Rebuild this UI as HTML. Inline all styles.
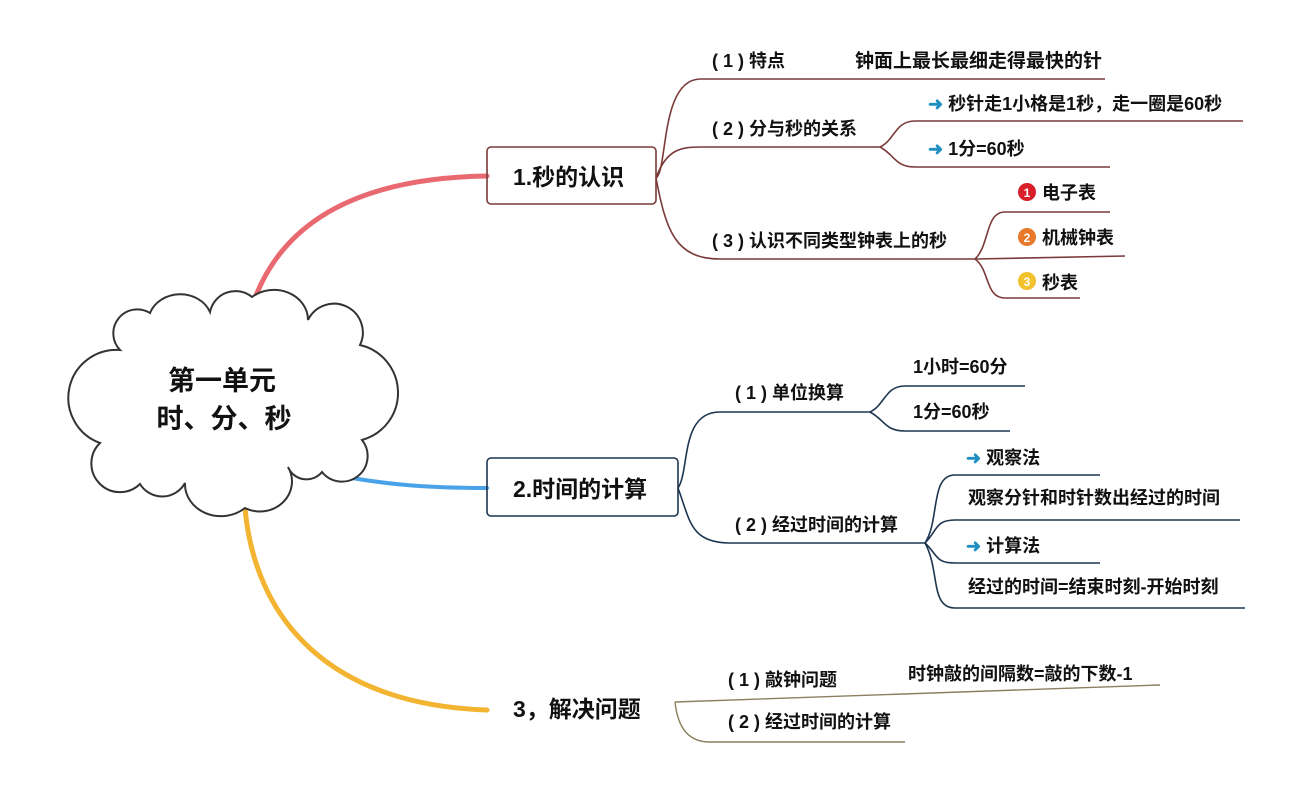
<!DOCTYPE html>
<html><head><meta charset="utf-8"><style>
html,body{margin:0;padding:0;background:#fff;}
svg{display:block;}
text{font-family:"Liberation Sans","Noto Sans CJK SC",sans-serif;font-weight:bold;fill:#111;}
</style></head><body>
<svg width="1314" height="800" viewBox="0 0 1314 800" xmlns="http://www.w3.org/2000/svg">
<path d="M255,298 C285,220 360,178 487,176" stroke="#e86a70" stroke-width="5" fill="none" stroke-linecap="round"/>
<path d="M322,472 C380,485 430,488 487,488" stroke="#4aa3e8" stroke-width="4" fill="none" stroke-linecap="round"/>
<path d="M245,508 C255,620 330,705 487,710" stroke="#f2b431" stroke-width="5" fill="none" stroke-linecap="round"/>
<path d="M120,350 A24,24 0 0 1 150,313 A32,28 0 0 1 210,312 A26,26 0 0 1 252,297 A34,30 0 0 1 308,320 A28,28 0 0 1 360,345 A49,49 0 0 1 362,440 A24,24 0 0 1 322,472 A20,20 0 0 1 288,467 A32,30 0 0 1 245,508 A36,32 0 0 1 185,483 A26,26 0 0 1 140,484 A28,28 0 0 1 100,443 A48,48 0 0 1 120,350 Z" fill="#fff" stroke="#333" stroke-width="2"/>
<text x="222" y="390" font-size="27" text-anchor="middle">第一单元</text>
<text x="224" y="428" font-size="27" text-anchor="middle">时、分、秒</text>

<g stroke="#7a3a3a" stroke-width="1.6" fill="none">
<rect x="487" y="147" width="169" height="57" rx="4"/>
<path d="M656,178 C668,170 660,80 700,79 L1105,79"/>
<path d="M656,178 C666,150 680,147 700,147 L880,147"/>
<path d="M656,178 C666,230 675,259 720,259 L975,259"/>
<path d="M880,147 C895,140 895,121 915,121 L1243,121"/>
<path d="M880,147 C895,155 895,167 915,167 L1110,167"/>
<path d="M975,259 C990,245 985,212 1005,212 L1110,212"/>
<path d="M975,259 L1125,256"/>
<path d="M975,259 C990,270 985,298 1005,298 L1080,298"/>
</g>
<text x="513" y="185" font-size="23">1.秒的认识</text>
<text x="712" y="67" font-size="18">( 1 ) 特点</text>
<text x="855" y="67" font-size="19">钟面上最长最细走得最快的针</text>
<text x="712" y="135" font-size="18">( 2 ) 分与秒的关系</text>
<text x="712" y="247" font-size="18">( 3 ) 认识不同类型钟表上的秒</text>
<text x="928" y="110" font-size="18"><tspan fill="#1f8fc2">➜</tspan> 秒针走1小格是1秒，走一圈是60秒</text>
<text x="928" y="155" font-size="18"><tspan fill="#1f8fc2">➜</tspan> 1分=60秒</text>
<circle cx="1027" cy="192" r="9" fill="#d9202a"/><text x="1027" y="197" font-size="12" text-anchor="middle" style="fill:#fff">1</text>
<circle cx="1027" cy="237" r="9" fill="#e8792a"/><text x="1027" y="242" font-size="12" text-anchor="middle" style="fill:#fff">2</text>
<circle cx="1027" cy="281" r="9" fill="#f2c12e"/><text x="1027" y="286" font-size="12" text-anchor="middle" style="fill:#fff">3</text>
<text x="1042" y="199" font-size="18">电子表</text>
<text x="1042" y="244" font-size="18">机械钟表</text>
<text x="1042" y="289" font-size="18">秒表</text>

<g stroke="#1d3550" stroke-width="1.6" fill="none">
<rect x="487" y="458" width="191" height="58" rx="4"/>
<path d="M678,488 C690,470 680,412 720,412 L870,412"/>
<path d="M678,488 C690,520 690,543 730,543 L925,543"/>
<path d="M870,412 C885,405 885,386 905,386 L1025,386"/>
<path d="M870,412 C885,420 885,431 905,431 L1010,431"/>
<path d="M925,543 C940,520 930,475 955,475 L1100,475"/>
<path d="M925,543 C938,530 935,520 955,520 L1240,520"/>
<path d="M925,543 C938,555 935,563 955,563 L1100,563"/>
<path d="M925,543 C940,570 930,608 955,608 L1245,608"/>
</g>
<text x="513" y="497" font-size="23">2.时间的计算</text>
<text x="735" y="399" font-size="18">( 1 ) 单位换算</text>
<text x="735" y="531" font-size="18">( 2 ) 经过时间的计算</text>
<text x="913" y="373" font-size="18">1小时=60分</text>
<text x="913" y="418" font-size="18">1分=60秒</text>
<text x="966" y="464" font-size="18"><tspan fill="#1f8fc2">➜</tspan> 观察法</text>
<text x="968" y="504" font-size="18">观察分针和时针数出经过的时间</text>
<text x="966" y="552" font-size="18"><tspan fill="#1f8fc2">➜</tspan> 计算法</text>
<text x="968" y="593" font-size="18">经过的时间=结束时刻-开始时刻</text>

<g stroke="#8a8060" stroke-width="1.4" fill="none">
<path d="M675,702 L1160,685"/>
<path d="M675,702 C678,730 690,742 710,742 L905,742"/>
</g>
<text x="513" y="717" font-size="23">3，解决问题</text>
<text x="728" y="686" font-size="18">( 1 ) 敲钟问题</text>
<text x="908" y="680" font-size="18">时钟敲的间隔数=敲的下数-1</text>
<text x="728" y="728" font-size="18">( 2 ) 经过时间的计算</text>
</svg>
</body></html>
